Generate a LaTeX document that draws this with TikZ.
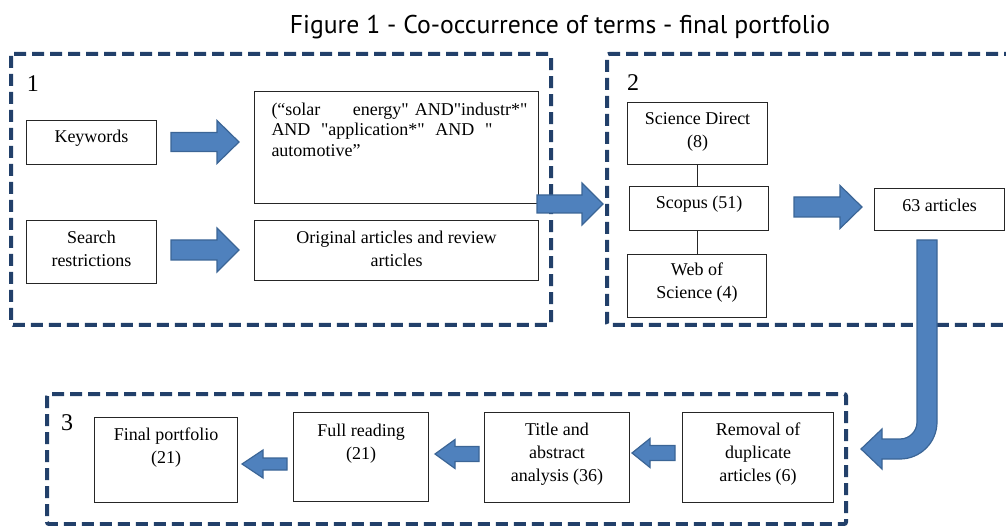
\documentclass[tikz,border=0pt]{standalone}
\usepackage{fontspec}
\setmainfont{Liberation Serif}[Ligatures=TeXOff]
\newfontfamily\titlefont{PT Sans}
\definecolor{grpblue}{HTML}{22406A}
\definecolor{arrfill}{HTML}{4F81BD}
\definecolor{arrline}{HTML}{3B6596}
\newcommand{\barrow}[6]{\filldraw[blockarr] (#1,{#2-#5}) -- (#3,{#2-#5}) -- (#3,{#2-#6}) -- (#4,#2) -- (#3,{#2+#6}) -- (#3,{#2+#5}) -- (#1,{#2+#5}) -- cycle;}
\newcommand{\btext}[4]{\parbox[c][#2pt][t]{#1pt}{\centering\rule{0pt}{#3pt}#4}}
\begin{document}
\begin{tikzpicture}[x=1pt,y=-1pt,
  tbox/.style={draw=black!85, line width=1pt, inner sep=0pt, anchor=north west, fill=white,
    font=\rmfamily\fontsize{18pt}{23pt}\selectfont},
  group/.style={draw=grpblue, line width=4pt, dash pattern=on 12pt off 6pt, rounded corners=2pt},
  blockarr/.style={fill=arrfill, draw=arrline, line width=1.2pt, line join=miter},
  numlbl/.style={font=\rmfamily\fontsize{24pt}{28pt}\selectfont, anchor=base, inner sep=0pt}]
\useasboundingbox (0,0) rectangle (1006,526);
% title
\node[font=\titlefont\fontsize{25.7pt}{30pt}\selectfont, anchor=base, inner sep=0pt] (title) at (560,34) {Figure 1 - Co-occurrence of terms - final portfolio};
% groups
\draw[group] (11,54) rectangle (551,325);
\draw[group] (1016,54) -- (607,54) -- (607,325) -- (1016,325);
\draw[group] (47,394) rectangle (846,524);
\node[numlbl] (n1) at (33,92) {1};
\node[numlbl] (n2) at (633,91) {2};
\node[numlbl] (n3) at (67,430) {3};
% boxes group 1
\node[tbox] (kw) at (26,120) {\btext{130}{44}{22}{Keywords}};
\node[tbox] (sr) at (26,220) {\btext{130}{63}{23}{Search\\restrictions}};
\node[tbox] (qr) at (254,91) {\parbox[c][112pt][t]{284pt}{\fontsize{18pt}{20.5pt}\selectfont\leftskip=17pt\rule{0pt}{24pt}\makebox[256pt][s]{(“solar\hfill energy"\hspace{1.5pt} AND"industr*"}\\\makebox[221pt][s]{AND\hfill "application*"\hfill AND\hfill "}\\automotive”}};
\node[tbox] (oa) at (254,220) {\btext{284}{60}{23}{Original articles and review\\articles}};
% boxes group 2
\node[tbox] (sd) at (627,102) {\btext{140}{62}{22}{Science Direct\\(8)}};
\node[tbox] (sc) at (629,186) {\btext{139}{44}{22}{Scopus (51)}};
\node[tbox] (ws) at (627,254) {\btext{139}{63}{21}{Web of\\Science (4)}};
\node[tbox] (ar) at (874,188) {\btext{130}{42}{23}{63 articles}};
% boxes group 3
\node[tbox] (rd) at (682,412) {\btext{151}{90}{23}{Removal of\\duplicate\\articles (6)}};
\node[tbox] (ta) at (484,412) {\btext{145}{90}{23}{Title and\\abstract\\analysis (36)}};
\node[tbox] (fr) at (293,412) {\btext{135}{89}{24}{Full reading\\(21)}};
\node[tbox] (fp) at (94,417) {\btext{143}{85}{23}{Final portfolio\\(21)}};
% thin connectors
\draw[black!85, line width=1pt] (sd.south) -- (sd.south |- sc.north);
\draw[black!85, line width=1pt] (sd.south |- sc.south) -- (sd.south |- ws.north);
% block arrows
\barrow{171}{142}{217}{239}{9.5}{21.5}
\barrow{171}{250}{217}{239}{10}{22}
\barrow{537}{204}{582}{603}{9}{21}
\barrow{794}{207}{840}{862}{10}{21.5}
\barrow{675}{453}{650}{632}{7.5}{14.5}
\barrow{479}{454}{455}{435}{7.5}{14.5}
\barrow{287}{464}{263}{242}{6}{14}
% bent arrow
\filldraw[blockarr] (917,240) -- (937,240) -- (937,422) .. controls (937,442.4) and (920.4,459) .. (900,459) -- (882,459) -- (882,469) -- (861,449) -- (882,429) -- (882,439) -- (900,439) .. controls (909.4,439) and (917,431.4) .. (917,422) -- cycle;
\end{tikzpicture}
\end{document}
